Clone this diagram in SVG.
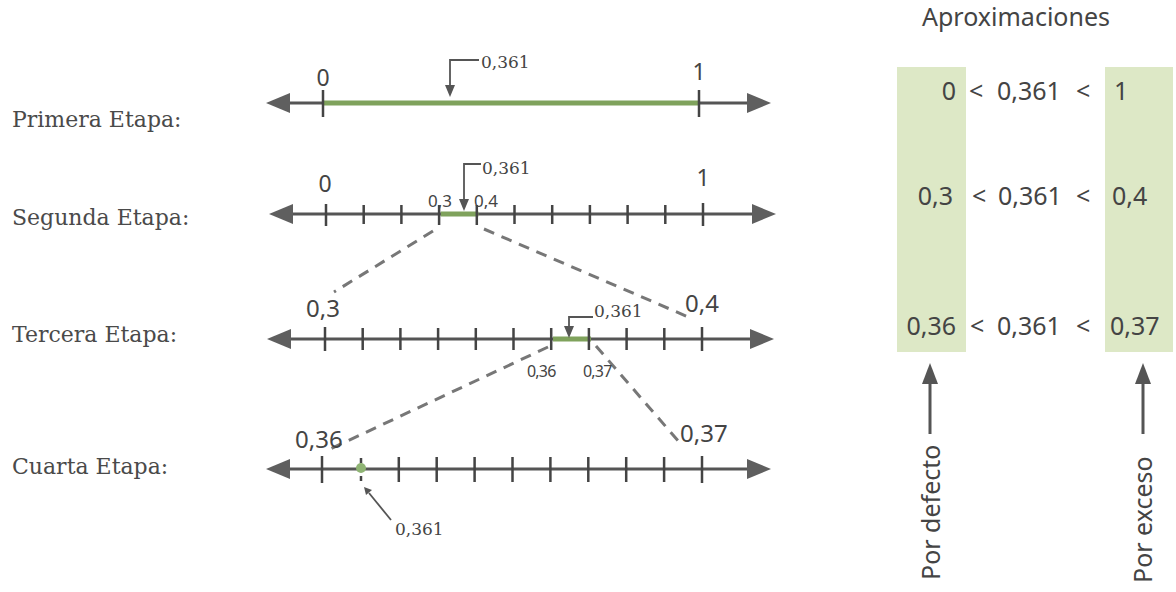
<svg xmlns="http://www.w3.org/2000/svg" width="1176" height="592" viewBox="0 0 1176 592">
<style>
.stage{font-family:"DejaVu Serif","Liberation Serif",serif;font-size:22px;fill:#4a4a4a}
.num{font-family:"Noto Sans","DejaVu Sans",sans-serif;fill:#444}
.call{font-family:"DejaVu Serif","Liberation Serif",serif;font-size:17px;fill:#444}
.axis{stroke:#555;stroke-width:3;fill:none}
.tick{stroke:#444;stroke-width:2.5;fill:none}
.green{stroke:#7fa25c;stroke-width:5;fill:none}
.dash{stroke:#777;stroke-width:3;stroke-dasharray:11 8;fill:none}
.ptr{stroke:#555;stroke-width:1.8;fill:none}
.head{fill:#555}
.panel{fill:#dde8c6}
.pt{font-family:"Noto Sans","DejaVu Sans",sans-serif;font-size:25px;fill:#444}
</style>
<defs>
<marker id="ah" viewBox="0 0 24 20" refX="0" refY="10" markerWidth="24" markerHeight="20" markerUnits="userSpaceOnUse" orient="auto-start-reverse">
<path d="M0,0 L24,10 L0,20 Z" fill="#5f5f5f"/>
</marker>
</defs>
<rect width="1176" height="592" fill="#ffffff"/>

<g id="connectors">
<path class="dash" d="M433,231 L334,292"/>
<path class="dash" d="M484,229 L693,319"/>
<path class="dash" d="M548,347 L326,451"/>
<path class="dash" d="M596,346 L680,443"/>
</g>

<g id="stage1">
<text class="stage" x="12" y="127">Primera Etapa:</text>
<line class="axis" x1="290" y1="103" x2="747" y2="103" marker-start="url(#ah)" marker-end="url(#ah)"/>
<line class="green" x1="323" y1="103" x2="699" y2="103"/>
<path class="tick" d="M323,90V117M699,90V117"/>
<text class="num" x="323" y="86" font-size="23" text-anchor="middle">0</text>
<text class="num" x="699" y="80" font-size="23" text-anchor="middle">1</text>
<path class="ptr" d="M479,60H450V87"/>
<polygon class="head" points="445,85 455,85 450,97"/>
<text class="call" x="481" y="68">0,361</text>
</g>

<g id="stage2">
<text class="stage" x="12" y="225">Segunda Etapa:</text>
<line class="axis" x1="293" y1="214" x2="752" y2="214" marker-start="url(#ah)" marker-end="url(#ah)"/>
<line class="green" x1="440.7" y1="214" x2="478.4" y2="214"/>
<path class="tick" d="M326,204V226M363.7,205V224M401.4,205V224M439.1,205V225M476.8,205V225M514.5,205V224M552.2,205V224M589.9,205V224M627.6,205V224M665.3,205V224M703,203V226"/>
<text class="num" x="325" y="192" font-size="23" text-anchor="middle">0</text>
<text class="num" x="703" y="186" font-size="23" text-anchor="middle">1</text>
<text class="num" x="440" y="207" font-size="17" text-anchor="middle">0,3</text>
<text class="num" x="474" y="207" font-size="17">0,4</text>
<path class="ptr" d="M481,164H464V200"/>
<polygon class="head" points="459,199 469,199 464,211"/>
<text class="call" x="482" y="174">0,361</text>
</g>

<g id="stage3">
<text class="stage" x="12" y="342">Tercera Etapa:</text>
<line class="axis" x1="291" y1="339" x2="750" y2="339" marker-start="url(#ah)" marker-end="url(#ah)"/>
<line class="green" x1="553" y1="339" x2="591" y2="339"/>
<path class="tick" d="M325,327V351M362.7,328V350M400.4,328V350M438.1,328V350M475.8,328V350M513.5,328V350M551.2,328V350M588.9,328V350M626.6,328V350M664.3,328V350M702,327V351"/>
<text class="num" x="306" y="317" font-size="24">0,3</text>
<text class="num" x="685" y="312" font-size="24">0,4</text>
<text class="num" x="527" y="377" font-size="16" letter-spacing="-0.8">0,36</text>
<text class="num" x="583" y="377" font-size="16" letter-spacing="-0.8">0,37</text>
<path class="ptr" d="M593,317H569V327"/>
<polygon class="head" points="564,326 574,326 569,338"/>
<text class="call" x="594" y="317">0,361</text>
</g>

<g id="stage4">
<text class="stage" x="12" y="474">Cuarta Etapa:</text>
<line class="axis" x1="290" y1="469" x2="747" y2="469" marker-start="url(#ah)" marker-end="url(#ah)"/>
<path class="tick" d="M322,456V483M398.8,457V482M436.7,457V482M474.6,457V482M512.5,457V482M550.4,457V482M588.3,457V482M626.2,457V482M664.1,457V482M702,456V483"/>
<path d="M361,458V482" stroke="#444" stroke-width="2.5" stroke-dasharray="5 4"/>
<circle cx="361" cy="468" r="5" fill="#8fb474"/>
<text class="num" x="295" y="448" font-size="24">0,36</text>
<text class="num" x="680" y="442" font-size="24">0,37</text>
<path class="ptr" d="M391,520L369,493"/>
<polygon class="head" points="364,487 372,490 366,495"/>
<text class="call" x="395" y="535">0,361</text>
</g>

<g id="approx">
<text class="pt" x="922" y="26">Aproximaciones</text>
<rect class="panel" x="897" y="67" width="69" height="285"/>
<rect class="panel" x="1105" y="67" width="68" height="285"/>
<text class="pt" x="956" y="100" text-anchor="end">0</text>
<text class="pt" x="969" y="100">&lt;</text>
<text class="pt" x="997" y="100">0,361</text>
<text class="pt" x="1076" y="100">&lt;</text>
<text class="pt" x="1114" y="100">1</text>
<text class="pt" x="953" y="205" text-anchor="end">0,3</text>
<text class="pt" x="972" y="205">&lt;</text>
<text class="pt" x="998" y="205">0,361</text>
<text class="pt" x="1076" y="205">&lt;</text>
<text class="pt" x="1112" y="205">0,4</text>
<text class="pt" x="956" y="335" text-anchor="end">0,36</text>
<text class="pt" x="970" y="335">&lt;</text>
<text class="pt" x="997" y="335">0,361</text>
<text class="pt" x="1076" y="335">&lt;</text>
<text class="pt" x="1110" y="335">0,37</text>
</g>

<g id="defecto">
<line class="axis" x1="930" y1="380" x2="930" y2="434" stroke-width="2.5"/>
<polygon class="head" points="922,384 938,384 930,363"/>
<text class="pt" transform="translate(940,580) rotate(-90)">Por defecto</text>
</g>

<g id="exceso">
<line class="axis" x1="1143" y1="380" x2="1143" y2="434" stroke-width="2.5"/>
<polygon class="head" points="1135,384 1151,384 1143,363"/>
<text class="pt" transform="translate(1152,583) rotate(-90)">Por exceso</text>
</g>
</svg>
